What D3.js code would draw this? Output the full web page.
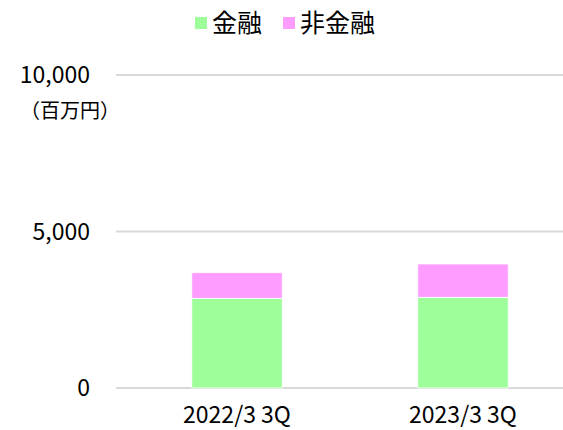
<!DOCTYPE html>
<html>
<head>
<meta charset="utf-8">
<script src="https://cdn.jsdelivr.net/npm/d3@7"></script>
<style>
  body { margin: 0; background: #fff; }
  svg text { font-family: "Noto Sans CJK JP", "Noto Sans", sans-serif; fill: #000; }
</style>
</head>
<body>
<div id="chart"></div>
<script>
// data
const categories = ["2022/3 3Q", "2023/3 3Q"];
const seriesNames = ["金融", "非金融"];
const financial = [2866, 2898];
const nonFinancial = [818, 1064];
const yTicks = [0, 5000, 10000];
const colors = ["#9eff9a", "#ff9cff"];

const width = 563, height = 430;

const svg = d3.select("#chart").append("svg")
  .attr("width", width)
  .attr("height", height);

const x = d3.scaleBand()
  .domain(categories)
  .range([124, 576])
  .paddingInner(0.6)
  .paddingOuter(0.3);

const y = d3.scaleLinear()
  .domain([0, 10000])
  .range([388, 75]);

// gridlines
svg.append("g").selectAll("line")
  .data(yTicks)
  .enter()
  .append("line")
  .attr("x1", 116).attr("x2", width)
  .attr("y1", d => y(d)).attr("y2", d => y(d))
  .attr("stroke", "#d9d9d9")
  .attr("stroke-width", 2);

// y tick labels
svg.append("g").selectAll("text")
  .data(yTicks)
  .enter()
  .append("text")
  .attr("x", 90)
  .attr("y", d => y(d))
  .attr("dy", "0.35em")
  .attr("text-anchor", "end")
  .attr("font-size", "23px")
  .text(d => d3.format(",")(d));

svg.append("text")
  .attr("x", 20)
  .attr("y", 111)
  .attr("dy", "0.35em")
  .attr("font-size", "20px")
  .text("（百万円）");

// stacked bars
const rows = categories.map((c, i) => ({ cat: c, fin: financial[i], non: nonFinancial[i] }));
const stacked = d3.stack().keys(["fin", "non"])(rows);

svg.append("g").selectAll("g")
  .data(stacked)
  .enter()
  .append("g")
  .attr("fill", (d, i) => colors[i])
  .selectAll("rect")
  .data(d => d)
  .enter()
  .append("rect")
  .attr("x", d => x(d.data.cat))
  .attr("width", x.bandwidth())
  .attr("y", d => y(d[1]))
  .attr("height", d => y(d[0]) - y(d[1]))
  .attr("stroke", "#fff")
  .attr("stroke-width", 0.8);

// x labels
svg.append("g").selectAll("text")
  .data(categories)
  .enter()
  .append("text")
  .attr("x", d => x(d) + x.bandwidth() / 2)
  .attr("y", 415)
  .attr("dy", "0.35em")
  .attr("text-anchor", "middle")
  .attr("font-size", "23px")
  .text(d => d);

// legend
const legendX = [195, 283];
const legend = svg.append("g").selectAll("g")
  .data(seriesNames)
  .enter()
  .append("g")
  .attr("transform", (d, i) => `translate(${legendX[i]},23)`);

legend.append("rect")
  .attr("x", 0).attr("y", -6)
  .attr("width", 12).attr("height", 12)
  .attr("fill", (d, i) => colors[i]);

legend.append("text")
  .attr("x", 17)
  .attr("y", 0)
  .attr("dy", "0.35em")
  .attr("font-size", "25px")
  .text(d => d);
</script>
</body>
</html>
